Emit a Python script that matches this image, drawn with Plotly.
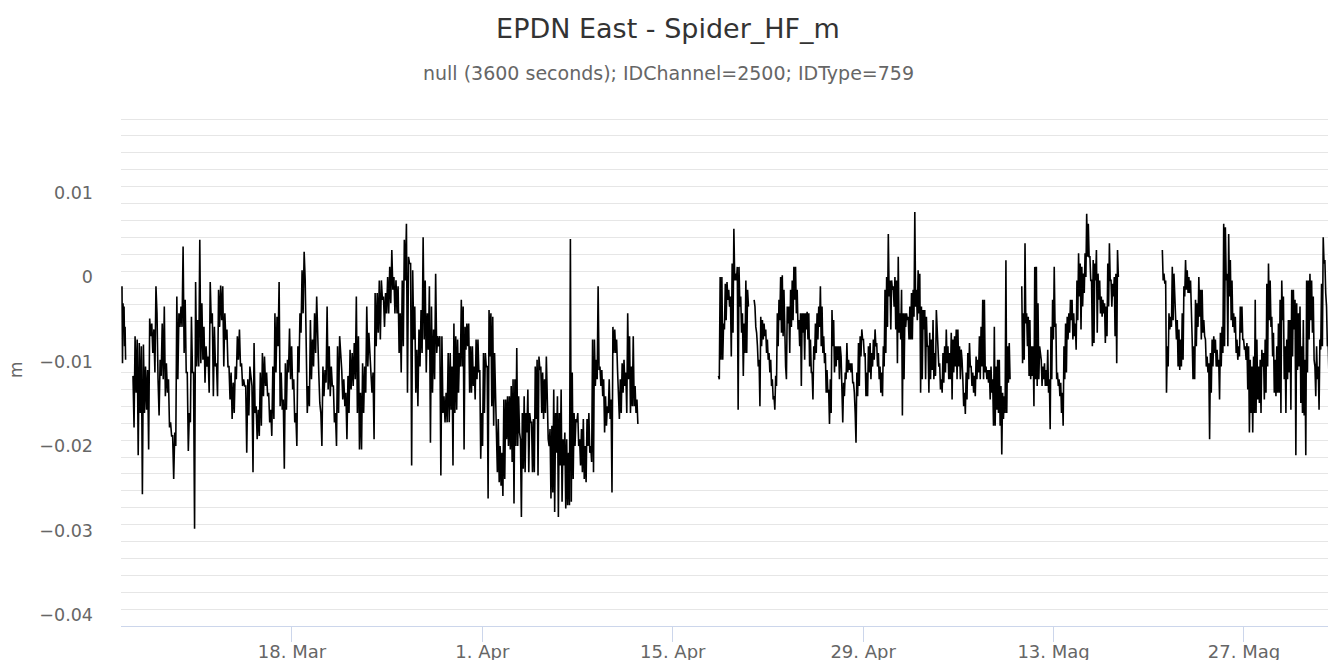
import pandas as pd
import plotly.graph_objects as go

# ---------------- data (metres) ----------------
# each segment: start time, end time, values (evenly spaced samples)
seg1a_start, seg1a_end = "2019-03-05 12:04", "2019-03-05 18:26"
seg1a = [-0.0018, -0.0109, -0.0038, -0.0058, -0.0042, -0.0089, -0.0066, -0.0105]

seg1b_start, seg1b_end = "2019-03-06 07:29", "2019-03-29 13:31"
seg1b = [
    -0.0124, -0.0185, -0.0077, -0.0144, -0.0081, -0.0218, -0.0085, -0.0168, -0.0089, -0.0264,
    -0.0087, -0.0168, -0.0113, -0.0164, -0.0117, -0.0211, -0.0056, -0.0077, -0.0062, -0.0097,
    -0.0069, -0.0120, -0.0018, -0.0050, -0.0128, -0.0171, -0.0105, -0.0124, -0.0062, -0.0128,
    -0.0042, -0.0148, -0.0109, -0.0144, -0.0128, -0.0185, -0.0179, -0.0195, -0.0195, -0.0246,
    -0.0191, -0.0207, -0.0030, -0.0128, -0.0050, -0.0066, -0.0042, -0.0066, 0.0029, -0.0097,
    -0.0034, -0.0120, -0.0120, -0.0213, -0.0168, -0.0179, -0.0054, -0.0120, -0.0120, -0.0305,
    -0.0013, -0.0113, -0.0058, -0.0113, 0.0037, -0.0109, -0.0038, -0.0105, -0.0066, -0.0132,
    -0.0089, -0.0113, -0.0101, -0.0144, -0.0013, -0.0062, -0.0050, -0.0148, -0.0066, -0.0113,
    -0.0109, -0.0148, -0.0022, -0.0066, -0.0017, -0.0058, -0.0018, -0.0113, -0.0050, -0.0081,
    -0.0069, -0.0113, -0.0113, -0.0152, -0.0120, -0.0175, -0.0132, -0.0168, -0.0113, -0.0128,
    -0.0077, -0.0105, -0.0069, -0.0113, -0.0109, -0.0136, -0.0128, -0.0136, -0.0136, -0.0215,
    -0.0128, -0.0171, -0.0113, -0.0128, -0.0136, -0.0238, -0.0085, -0.0168, -0.0160, -0.0199,
    -0.0164, -0.0195, -0.0120, -0.0183, -0.0097, -0.0148, -0.0101, -0.0136, -0.0120, -0.0148,
    -0.0144, -0.0179, -0.0164, -0.0195, -0.0113, -0.0175, -0.0050, -0.0120, -0.0054, -0.0089,
    -0.0013, -0.0160, -0.0120, -0.0164, -0.0152, -0.0234, -0.0109, -0.0164, -0.0105, -0.0120,
    -0.0068, -0.0128, -0.0089, -0.0140, -0.0128, -0.0179, -0.0168, -0.0207, -0.0089, -0.0120,
    -0.0050, -0.0073, 0.0001, -0.0050, 0.0023, -0.0011, -0.0105, -0.0168, -0.0136, -0.0160,
    -0.0058, -0.0128, -0.0081, -0.0113, -0.0050, -0.0097, -0.0030, -0.0093, -0.0120, -0.0156,
    -0.0168, -0.0207, -0.0113, -0.0148, -0.0117, -0.0132, -0.0042, -0.0140, -0.0089, -0.0148,
    -0.0113, -0.0136, -0.0136, -0.0179, -0.0168, -0.0207, -0.0089, -0.0168, -0.0077, -0.0097,
    -0.0117, -0.0152, -0.0128, -0.0160, -0.0144, -0.0199, -0.0124, -0.0168, -0.0093, -0.0140,
    -0.0097, -0.0136, -0.0085, -0.0128, -0.0030, -0.0168, -0.0077, -0.0211, -0.0144, -0.0211,
    -0.0109, -0.0168, -0.0113, -0.0144, -0.0042, -0.0113, -0.0073, -0.0097, -0.0120, -0.0144,
    -0.0120, -0.0199, -0.0026, -0.0089, -0.0026, -0.0073, -0.0011, -0.0081, -0.0011, -0.0034,
    -0.0030, -0.0066, -0.0026, -0.0050, -0.0007, -0.0050, 0.0005, -0.0038, 0.0025, -0.0022,
    -0.0007, -0.0050, -0.0011, -0.0050, -0.0018, -0.0097, -0.0050, -0.0120, -0.0011, -0.0089,
    0.0037, -0.0011, 0.0056, -0.0144, 0.0017, 0.0009, 0.0009, -0.0230, 0.0001, -0.0081,
    -0.0042, -0.0144, -0.0093, -0.0160, -0.0069, -0.0113, -0.0046, -0.0097, 0.0040, -0.0081,
    -0.0011, -0.0120, -0.0050, -0.0093, -0.0018, -0.0203, -0.0042, -0.0144, -0.0069, -0.0128,
    -0.0003, -0.0097, -0.0077, -0.0089, -0.0077, -0.0242, -0.0077, -0.0168, -0.0148, -0.0179,
    -0.0144, -0.0179, -0.0097, -0.0179,
]

seg1c_start, seg1c_end = "2019-03-29 15:16", "2019-04-12 10:25"
seg1c = [
    -0.0097, -0.0164, -0.0113, -0.0230, -0.0062, -0.0168, -0.0077, -0.0164, -0.0081, -0.0144,
    -0.0097, -0.0113, -0.0034, -0.0113, -0.0042, -0.0211, -0.0066, -0.0093, -0.0062, -0.0089,
    -0.0062, -0.0144, -0.0089, -0.0144, -0.0089, -0.0136, -0.0113, -0.0152, -0.0081, -0.0128,
    -0.0081, -0.0120, -0.0117, -0.0222, -0.0168, -0.0207, -0.0097, -0.0168, -0.0097, -0.0113,
    -0.0113, -0.0269, -0.0046, -0.0101, -0.0050, -0.0160, -0.0054, -0.0183, -0.0097, -0.0144,
    -0.0168, -0.0238, -0.0175, -0.0250, -0.0207, -0.0254, -0.0215, -0.0266, -0.0152, -0.0246,
    -0.0152, -0.0199, -0.0148, -0.0207, -0.0148, -0.0211, -0.0136, -0.0226, -0.0128, -0.0275,
    -0.0128, -0.0207, -0.0091, -0.0207, -0.0148, -0.0191, -0.0199, -0.0291, -0.0168, -0.0234,
    -0.0148, -0.0238, -0.0168, -0.0191, -0.0140, -0.0238, -0.0168, -0.0179, -0.0179, -0.0238,
    -0.0175, -0.0238, -0.0113, -0.0175, -0.0105, -0.0242, -0.0101, -0.0117, -0.0113, -0.0168,
    -0.0120, -0.0175, -0.0128, -0.0168, -0.0101, -0.0168, -0.0199, -0.0207, -0.0187, -0.0269,
    -0.0183, -0.0262, -0.0140, -0.0285, -0.0168, -0.0215, -0.0148, -0.0291, -0.0168, -0.0230,
    -0.0140, -0.0273, -0.0199, -0.0230, -0.0191, -0.0281, -0.0199, -0.0277, -0.0215, -0.0277,
    0.0038, -0.0273, -0.0120, -0.0246, -0.0168, -0.0207, -0.0175, -0.0179, -0.0168, -0.0207,
    -0.0199, -0.0230, -0.0187, -0.0238, -0.0175, -0.0246, -0.0207, -0.0250, -0.0175, -0.0207,
    -0.0168, -0.0215, -0.0207, -0.0226, -0.0081, -0.0238, -0.0081, -0.0136, -0.0105, -0.0128,
    -0.0018, -0.0117, -0.0113, -0.0136, -0.0117, -0.0148, -0.0128, -0.0191, -0.0148, -0.0183,
    -0.0160, -0.0168, -0.0128, -0.0175, -0.0152, -0.0262, -0.0066, -0.0097, -0.0069, -0.0097,
    -0.0081, -0.0117, -0.0144, -0.0175, -0.0128, -0.0168, -0.0109, -0.0144, -0.0105, -0.0136,
    -0.0120, -0.0168, -0.0050, -0.0128, -0.0077, -0.0168, -0.0113, -0.0160, -0.0077, -0.0160,
    -0.0136, -0.0168, -0.0152, -0.0181,
]

seg2a_start, seg2a_end = "2019-04-18 08:36", "2019-04-20 13:32"
seg2a = [
    -0.0124, -0.0128, -0.0007, -0.0105, -0.0007, -0.0105, -0.0062, -0.0069, -0.0015, -0.0058,
    -0.0013, -0.0034, -0.0022, -0.0042, -0.0030, -0.0101, 0.0009, -0.0073, 0.0050, -0.0011,
    -0.0003, -0.0011, 0.0005, -0.0164, 0.0005, -0.0042, -0.0030, -0.0073, -0.0050, -0.0124,
    -0.0062, -0.0097, -0.0011, -0.0097, -0.0022, -0.0042,
]

seg2b_start, seg2b_end = "2019-04-20 23:35", "2019-05-09 19:13"
seg2b = [
    -0.0034, -0.0042, -0.0066, -0.0073, -0.0089, -0.0113, -0.0105, -0.0160, -0.0054, -0.0089,
    -0.0058, -0.0081, -0.0062, -0.0077, -0.0069, -0.0097, -0.0081, -0.0105, -0.0097, -0.0120,
    -0.0105, -0.0136, -0.0128, -0.0152, -0.0148, -0.0164, -0.0124, -0.0136, -0.0050, -0.0089,
    -0.0034, -0.0058, -0.0007, -0.0073, -0.0005, -0.0077, -0.0022, -0.0081, -0.0113, -0.0128,
    -0.0042, -0.0062, -0.0042, -0.0097, -0.0022, -0.0066, -0.0011, -0.0058, 0.0005, -0.0034,
    0.0005, -0.0050, -0.0022, -0.0069, -0.0058, -0.0089, -0.0050, -0.0136, -0.0050, -0.0073,
    -0.0050, -0.0105, -0.0050, -0.0069, -0.0048, -0.0081, -0.0050, -0.0113, -0.0081, -0.0120,
    -0.0120, -0.0152, -0.0089, -0.0105, -0.0062, -0.0097, -0.0050, -0.0081, -0.0042, -0.0066,
    -0.0018, -0.0089, -0.0042, -0.0097, -0.0077, -0.0109, -0.0097, -0.0144, -0.0117, -0.0144,
    -0.0140, -0.0181, -0.0128, -0.0168, -0.0046, -0.0089, -0.0058, -0.0120, -0.0089, -0.0113,
    -0.0089, -0.0105, -0.0089, -0.0128, -0.0089, -0.0101, -0.0140, -0.0179, -0.0132, -0.0148,
    -0.0120, -0.0128, -0.0085, -0.0120, -0.0105, -0.0117, -0.0109, -0.0120, -0.0109, -0.0132,
    -0.0132, -0.0144, -0.0168, -0.0203, -0.0120, -0.0148, -0.0085, -0.0136, -0.0077, -0.0101,
    -0.0069, -0.0081, -0.0081, -0.0101, -0.0097, -0.0148, -0.0120, -0.0148, -0.0089, -0.0120,
    -0.0085, -0.0128, -0.0097, -0.0113, -0.0081, -0.0105, -0.0069, -0.0089, -0.0085, -0.0113,
    -0.0097, -0.0128, -0.0113, -0.0144, -0.0120, -0.0148, -0.0089, -0.0113, -0.0022, -0.0097,
    -0.0007, -0.0066, 0.0044, -0.0030, -0.0011, -0.0069, -0.0011, -0.0022, -0.0018, -0.0042,
    -0.0007, -0.0069, -0.0011, -0.0109, 0.0017, -0.0073, -0.0050, -0.0081, -0.0022, -0.0171,
    -0.0050, -0.0128, -0.0050, -0.0066, -0.0050, -0.0058, -0.0054, -0.0081, -0.0042, -0.0081,
    -0.0026, -0.0081, -0.0022, -0.0054, 0.0070, -0.0042, -0.0022, -0.0058, 0.0001, -0.0050,
    -0.0003, -0.0144, -0.0042, -0.0128, -0.0046, -0.0069, -0.0046, -0.0128, -0.0054, -0.0089,
    -0.0089, -0.0144, -0.0073, -0.0128, -0.0081, -0.0117, -0.0058, -0.0128, -0.0097, -0.0124,
    -0.0046, -0.0073, -0.0081, -0.0113, -0.0109, -0.0140, -0.0128, -0.0144, -0.0097, -0.0132,
    -0.0089, -0.0120, -0.0069, -0.0109, -0.0089, -0.0128, -0.0097, -0.0128, -0.0073, -0.0152,
    -0.0081, -0.0120, -0.0077, -0.0113, -0.0069, -0.0128, -0.0069, -0.0113, -0.0089, -0.0128,
    -0.0093, -0.0105, -0.0128, -0.0160, -0.0144, -0.0169, -0.0120, -0.0152, -0.0097, -0.0128,
    -0.0085, -0.0113, -0.0113, -0.0136, -0.0120, -0.0144, -0.0124, -0.0148, -0.0101, -0.0128,
    -0.0105, -0.0120, -0.0077, -0.0128, -0.0066, -0.0113, -0.0034, -0.0128, -0.0034, -0.0120,
    -0.0113, -0.0128, -0.0117, -0.0132, -0.0117, -0.0152, -0.0113, -0.0144, -0.0128, -0.0183,
    -0.0066, -0.0183, -0.0113, -0.0164, -0.0105, -0.0168, -0.0105, -0.0183, -0.0136, -0.0217,
    -0.0144, -0.0175, -0.0148, -0.0168, 0.0013, -0.0168, -0.0089, -0.0132, -0.0085, -0.0128,
]

seg3_start, seg3_end = "2019-05-10 15:52", "2019-05-17 18:17"
seg3 = [
    -0.0018, -0.0109, -0.0050, -0.0105, 0.0033, -0.0062, -0.0050, -0.0089, -0.0054, -0.0124,
    -0.0058, -0.0128, -0.0089, -0.0124, -0.0089, -0.0160, 0.0005, -0.0128, 0.0005, -0.0136,
    -0.0038, -0.0128, -0.0089, -0.0101, -0.0105, -0.0136, -0.0113, -0.0128, -0.0109, -0.0136,
    -0.0117, -0.0136, -0.0093, -0.0144, -0.0128, -0.0187, -0.0066, -0.0128, -0.0034, -0.0081,
    0.0005, -0.0066, -0.0062, -0.0128, -0.0120, -0.0136, -0.0128, -0.0148, -0.0132, -0.0168,
    -0.0144, -0.0183, -0.0089, -0.0128, -0.0062, -0.0120, -0.0054, -0.0081, -0.0050, -0.0073,
    -0.0034, -0.0058, -0.0034, -0.0081, -0.0050, -0.0077, -0.0062, -0.0093, -0.0011, -0.0058,
    0.0021, -0.0030, 0.0009, -0.0069, 0.0005, -0.0042, -0.0003, -0.0026, 0.0021, -0.0007,
    0.0068, 0.0017, 0.0056, 0.0017, 0.0017, -0.0011, -0.0011, -0.0089, 0.0013, -0.0085,
    0.0009, -0.0011, 0.0025, -0.0073, -0.0003, -0.0034, -0.0011, -0.0050, -0.0030, -0.0054,
    -0.0034, -0.0050, -0.0038, -0.0085, -0.0042, -0.0077, 0.0009, -0.0042, 0.0033, -0.0011,
    -0.0011, -0.0042, -0.0015, -0.0030, -0.0007, -0.0077, -0.0003, -0.0109, 0.0025, -0.0007,
]

seg4_start, seg4_end = "2019-05-20 23:56", "2019-06-02 09:00"
seg4 = [
    0.0025, -0.0011, -0.0003, -0.0015, -0.0011, -0.0144, -0.0089, -0.0113, -0.0050, -0.0069,
    -0.0054, -0.0066, 0.0005, -0.0058, -0.0003, -0.0030, -0.0058, -0.0081, -0.0058, -0.0113,
    -0.0069, -0.0117, -0.0081, -0.0113, -0.0050, -0.0105, -0.0018, -0.0030, 0.0013, -0.0022,
    0.0001, -0.0026, -0.0007, -0.0026, -0.0011, -0.0069, -0.0081, -0.0128, -0.0089, -0.0128,
    -0.0034, -0.0089, -0.0038, -0.0066, -0.0007, -0.0054, -0.0022, -0.0081, -0.0022, -0.0073,
    -0.0058, -0.0077, -0.0081, -0.0113, -0.0101, -0.0120, -0.0109, -0.0199, -0.0097, -0.0144,
    -0.0081, -0.0113, -0.0077, -0.0097, -0.0081, -0.0113, -0.0093, -0.0113, -0.0105, -0.0152,
    -0.0073, -0.0113, -0.0066, -0.0097, 0.0056, -0.0089, 0.0052, -0.0011, -0.0003, -0.0089,
    0.0044, -0.0030, 0.0013, -0.0058, -0.0011, -0.0066, -0.0050, -0.0073, -0.0054, -0.0097,
    -0.0081, -0.0105, -0.0089, -0.0101, -0.0042, -0.0073, -0.0042, -0.0081, -0.0081, -0.0093,
    -0.0089, -0.0105, -0.0085, -0.0140, -0.0089, -0.0191, -0.0105, -0.0168, -0.0113, -0.0191,
    -0.0101, -0.0168, -0.0034, -0.0168, -0.0081, -0.0152, -0.0113, -0.0156, -0.0105, -0.0168,
    -0.0093, -0.0113, -0.0097, -0.0152, -0.0081, -0.0144, -0.0015, -0.0113, 0.0009, -0.0058,
    -0.0011, -0.0066, -0.0054, -0.0101, -0.0073, -0.0144, -0.0105, -0.0148, -0.0089, -0.0144,
    -0.0062, -0.0144, -0.0034, -0.0168, -0.0011, -0.0058, -0.0030, -0.0128, -0.0089, -0.0168,
    -0.0081, -0.0128, -0.0058, -0.0120, -0.0058, -0.0164, -0.0022, -0.0101, -0.0022, -0.0069,
    -0.0034, -0.0218, -0.0038, -0.0117, -0.0050, -0.0113, -0.0042, -0.0156, -0.0089, -0.0168,
    -0.0058, -0.0171, -0.0105, -0.0218, -0.0011, -0.0120, -0.0011, -0.0081, -0.0003, -0.0058,
    -0.0011, -0.0073, -0.0030, -0.0105, -0.0113, -0.0148, -0.0089, -0.0128, -0.0113, -0.0164,
    -0.0081, -0.0093, -0.0015, -0.0089, 0.0040, 0.0009, 0.0013, -0.0026, -0.0042, -0.0089,
    -0.0085, -0.0128, -0.0113, -0.0144,
]

segments = [
    (seg1a_start, seg1a_end, seg1a),
    (seg1b_start, seg1b_end, seg1b),
    (seg1c_start, seg1c_end, seg1c),
    (seg2a_start, seg2a_end, seg2a),
    (seg2b_start, seg2b_end, seg2b),
    (seg3_start, seg3_end, seg3),
    (seg4_start, seg4_end, seg4),
]
# seg1b and seg1c are one continuous run (no gap between them)
joined_with_next = [False, True, False, False, False, False, False]

tick_dates = ["2019-03-18", "2019-04-01", "2019-04-15", "2019-04-29", "2019-05-13", "2019-05-27"]
tick_text = ["18. Mar", "1. Apr", "15. Apr", "29. Apr", "13. Mag", "27. Mag"]

x_range = ["2019-03-05 10:19", "2019-06-02 18:23"]
y_range = [-0.042, 0.01812]

title_text = "EPDN East - Spider_HF_m"
subtitle_text = "null (3600 seconds); IDChannel=2500; IDType=759"
y_title = "m"

# ---------------- build series ----------------
xs, ys = [], []
for (start, end, vals), joined in zip(segments, joined_with_next):
    t = pd.date_range(start, end, periods=len(vals))
    xs.extend(list(t))
    ys.extend(vals)
    if not joined:
        xs.append(None)
        ys.append(None)

FONT = "DejaVu Sans"
W, H = 1336, 660
OFF = 8  # the page body adds an 8px offset; layout below is in figure pixels
ML, MR, MT, MB = 113, 8, 110, 42
PW, PH = W - ML - MR, H - MT - MB
CX = 668 - OFF  # visual centre of the window, in figure pixels

fig = go.Figure()
fig.add_trace(go.Scatter(
    x=xs, y=ys, mode="lines",
    line=dict(color="#000000", width=1.6),
    connectgaps=False, hoverinfo="skip", showlegend=False,
))

fig.update_layout(
    width=W, height=H,
    margin=dict(l=ML, r=MR, t=MT, b=MB, pad=0, autoexpand=False),
    paper_bgcolor="#ffffff", plot_bgcolor="#ffffff",
    font=dict(family=FONT, color="#666666"),
    title=dict(text=title_text, x=CX / W, xref="container", xanchor="center",
               y=1 - 21 / H, yref="container", yanchor="middle",
               font=dict(family=FONT, size=27, color="#333333")),
    xaxis=dict(
        type="date", range=x_range, automargin=False,
        tickmode="array", tickvals=tick_dates, ticktext=tick_text,
        ticks="outside", ticklen=15, tickwidth=1, tickcolor="#ccd6eb",
        ticklabelstandoff=-6,
        showline=True, linecolor="#ccd6eb", linewidth=1,
        showgrid=False, zeroline=False,
        tickfont=dict(family=FONT, size=18, color="#666666"),
    ),
    yaxis=dict(
        range=y_range, tick0=0, dtick=0.01, automargin=False,
        showgrid=True, gridcolor="#e6e6e6", gridwidth=1,
        minor=dict(dtick=0.002, tick0=0, showgrid=True, gridcolor="#e6e6e6", gridwidth=1, ticks=""),
        zeroline=False, showline=False, ticks="",
        ticklabelstandoff=27, ticklabelshift=6,
        tickfont=dict(family=FONT, size=17.5, color="#666666"),
    ),
    annotations=[
        dict(text=subtitle_text, xref="paper", yref="paper",
             x=(CX - ML) / PW, y=(H - MB - (73 - OFF)) / PH,
             xanchor="center", yanchor="middle", showarrow=False,
             font=dict(family=FONT, size=19, color="#666666")),
        dict(text=y_title, xref="paper", yref="paper",
             x=(16 - OFF - ML) / PW, y=(H - MB - (370 - OFF)) / PH, textangle=-90,
             xanchor="center", yanchor="middle", showarrow=False,
             font=dict(family=FONT, size=17, color="#666666")),
    ],
)

fig.write_html("out.html")
